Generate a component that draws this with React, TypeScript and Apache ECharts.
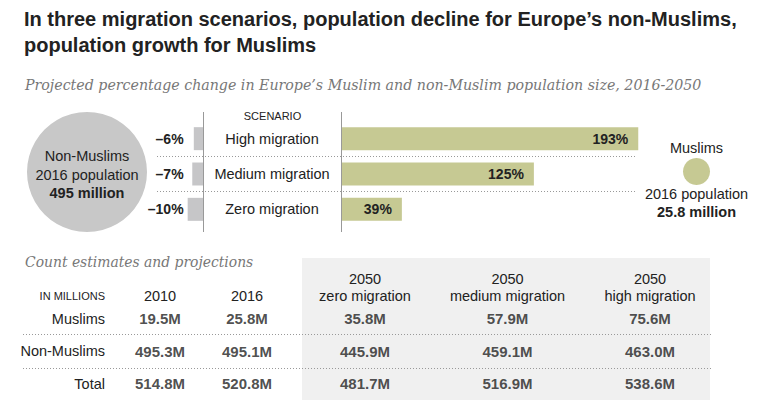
import React, { useEffect, useRef } from "react";
import * as echarts from "echarts";

// ---- data ----
const scenarios = ["High migration", "Medium migration", "Zero migration"];
const nonMuslimChange = [-6, -7, -10];
const muslimChange = [193, 125, 39];
const historicColumns = ["2010", "2016"];
const projectedColumns = ["2050\nzero migration", "2050\nmedium migration", "2050\nhigh migration"];
const tableRows = ["Muslims", "Non-Muslims", "Total"];
const muslimCounts = [19.5, 25.8, 35.8, 57.9, 75.6];
const nonMuslimCounts = [495.3, 495.1, 445.9, 459.1, 463.0];
const totalCounts = [514.8, 520.8, 481.7, 516.9, 538.6];
const nonMuslimPop2016 = "495 million";
const muslimPop2016 = "25.8 million";

const SANS = "'Liberation Sans', Arial, sans-serif";
const SERIF = "'DejaVu Serif', Georgia, serif";
const DARK = "#222";
const GREEN = "#c6c993";
const GRAY = "#c6c6c8";

const fmtChange = (v: number) => (v < 0 ? "\u2013" + Math.abs(v) + "%" : v + "%");

export default function App() {
  const ref = useRef<HTMLDivElement>(null);
  useEffect(() => {
    document.body.style.margin = "0";
    const chart = echarts.init(ref.current!, null, { renderer: "svg" });
    const rowsData = [muslimCounts, nonMuslimCounts, totalCounts];
    const cellsA = rowsData.flatMap((row, r) => row.slice(0, 2).map((v, c) => [c, r, v]));
    const cellsB = rowsData.flatMap((row, r) => row.slice(2).map((v, c) => [c, r, v]));
    const cellLabel = {
      show: true,
      position: "inside",
      formatter: (p: any) => p.value[2].toFixed(1) + "M",
      fontFamily: SANS,
      fontWeight: "bold",
      fontSize: 15,
      color: DARK,
    };
    const dotted = (x1: number, x2: number, y: number) => ({
      type: "line",
      z: 5,
      shape: { x1, y1: y, x2, y2: y },
      style: { stroke: "#999", lineWidth: 1, lineDash: [1, 2] },
    });
    const txt = (x: number, y: number, text: string, extra: any = {}) => ({
      type: "text",
      z: 10,
      x,
      y,
      style: {
        text,
        fontFamily: SANS,
        fontSize: 14.5,
        fill: DARK,
        align: "center",
        verticalAlign: "middle",
        ...extra,
      },
    });
    const headerLabel = {
      interval: 0,
      margin: -2.25,
      fontFamily: SANS,
      fontSize: 14.5,
      color: DARK,
      lineHeight: 17,
    };

    chart.setOption({
      animation: false,
      title: [
        {
          text: "In three migration scenarios, population decline for Europe\u2019s non-Muslims,\npopulation growth for Muslims",
          left: 24,
          top: 6,
          padding: 0,
          textStyle: { fontFamily: SANS, fontSize: 20, fontWeight: "bold", color: DARK, lineHeight: 26 },
        },
        {
          text: "Projected percentage change in Europe\u2019s Muslim and non-Muslim population size, 2016-2050",
          left: 25,
          top: 76,
          padding: 0,
          textStyle: { fontFamily: SERIF, fontSize: 14.2, fontStyle: "italic", fontWeight: "normal", color: "#777", lineHeight: 18 },
        },
      ],
      grid: [
        { left: 184.6, width: 18.4, top: 121, height: 106 },
        { left: 342, width: 307, top: 121, height: 106 },
        { left: 116.5, width: 174, top: 302.25, height: 97.5 },
        { left: 293.75, width: 427.5, top: 302.25, height: 97.5 },
      ],
      xAxis: [
        { type: "value", gridIndex: 0, min: -12, max: 0, show: false },
        { type: "value", gridIndex: 1, min: 0, max: 200, show: false },
        {
          type: "category",
          gridIndex: 2,
          position: "top",
          data: historicColumns,
          axisLine: { show: false },
          axisTick: { show: false },
          axisLabel: headerLabel,
        },
        {
          type: "category",
          gridIndex: 3,
          position: "top",
          data: projectedColumns,
          axisLine: { show: false },
          axisTick: { show: false },
          axisLabel: headerLabel,
        },
      ],
      yAxis: [
        {
          type: "category",
          gridIndex: 0,
          data: scenarios,
          inverse: true,
          axisLine: { show: false },
          axisTick: { show: false },
          axisLabel: {
            interval: 0,
            margin: 1,
            formatter: (_v: string, i: number) => fmtChange(nonMuslimChange[i]),
            fontFamily: SANS,
            fontWeight: "bold",
            fontSize: 14,
            color: DARK,
          },
        },
        {
          type: "category",
          gridIndex: 1,
          data: scenarios,
          inverse: true,
          axisLine: { show: false },
          axisTick: { show: false },
          axisLabel: { interval: 0, margin: 70, align: "center", fontFamily: SANS, fontSize: 14.5, color: DARK },
        },
        {
          type: "category",
          gridIndex: 2,
          data: tableRows,
          inverse: true,
          axisLine: { show: false },
          axisTick: { show: false },
          axisLabel: { interval: 0, margin: 11.5, fontFamily: SANS, fontSize: 14.5, color: DARK },
        },
        { type: "category", gridIndex: 3, data: tableRows, inverse: true, show: false },
      ],
      series: [
        {
          type: "bar",
          name: "Non-Muslims",
          xAxisIndex: 0,
          yAxisIndex: 0,
          data: nonMuslimChange,
          barWidth: 23,
          itemStyle: { color: GRAY },
          silent: true,
        },
        {
          type: "bar",
          name: "Muslims",
          xAxisIndex: 1,
          yAxisIndex: 1,
          data: muslimChange,
          barWidth: 23,
          itemStyle: { color: GREEN },
          silent: true,
          label: {
            show: true,
            position: "insideRight",
            distance: 10,
            formatter: (p: any) => fmtChange(p.value),
            fontFamily: SANS,
            fontWeight: "bold",
            fontSize: 14,
            color: DARK,
          },
        },
        {
          type: "scatter",
          xAxisIndex: 2,
          yAxisIndex: 2,
          data: cellsA,
          symbolSize: 1,
          itemStyle: { color: "rgba(0,0,0,0)" },
          silent: true,
          label: cellLabel,
          z: 10,
        },
        {
          type: "scatter",
          xAxisIndex: 3,
          yAxisIndex: 3,
          data: cellsB,
          symbolSize: 1,
          itemStyle: { color: "rgba(0,0,0,0)" },
          silent: true,
          label: cellLabel,
          z: 10,
        },
      ],
      graphic: {
        elements: [
          { type: "rect", z: -1, shape: { x: 302, y: 258, width: 408, height: 142 }, style: { fill: "#f0f0f0" } },
          { type: "circle", z: 1, shape: { cx: 87, cy: 172, r: 60 }, style: { fill: "#c8c8c8" } },
          txt(87, 156, "Non-Muslims"),
          txt(87, 174.5, "2016 population"),
          txt(87, 193, nonMuslimPop2016, { fontWeight: "bold" }),
          { type: "circle", z: 1, shape: { cx: 696.5, cy: 171.5, r: 13.5 }, style: { fill: GREEN } },
          txt(696.5, 148, "Muslims"),
          txt(696.5, 194, "2016 population"),
          txt(696.5, 212, muslimPop2016, { fontWeight: "bold" }),
          txt(272.5, 116, "SCENARIO", { fontSize: 11 }),
          { type: "line", z: 5, shape: { x1: 203.5, y1: 112, x2: 203.5, y2: 232 }, style: { stroke: "#999", lineWidth: 1 } },
          { type: "line", z: 5, shape: { x1: 341.5, y1: 112, x2: 341.5, y2: 232 }, style: { stroke: "#999", lineWidth: 1 } },
          dotted(157, 636, 156.5),
          dotted(157, 636, 191.5),
          txt(25, 262, "Count estimates and projections", {
            fontFamily: SERIF,
            fontStyle: "italic",
            fontSize: 13.9,
            fill: "#777",
            align: "left",
          }),
          txt(105, 296, "IN MILLIONS", { fontSize: 11, align: "right" }),
          dotted(23, 711, 334.5),
          dotted(23, 711, 368.5),
        ],
      },
    });
    return () => chart.dispose();
  }, []);
  return <div ref={ref} style={{ width: 770, height: 400 }} />;
}
